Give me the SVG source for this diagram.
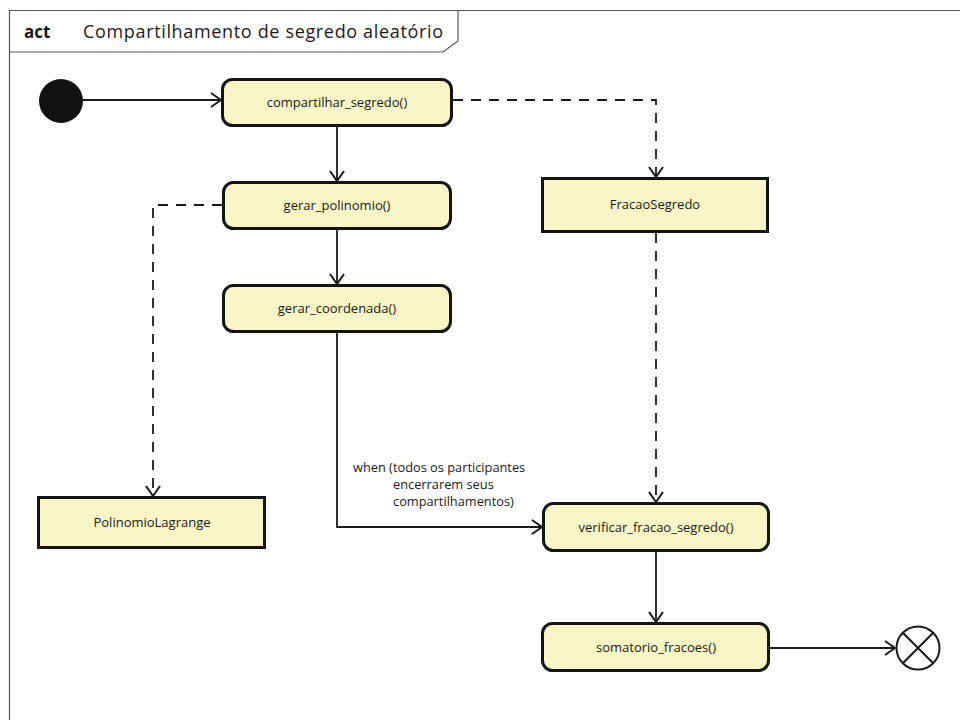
<svg xmlns="http://www.w3.org/2000/svg" width="960" height="720" viewBox="0 0 960 720">
  <style>
    .frame { fill: none; stroke: #555; stroke-width: 1.2; }
    .action { fill: #f8f6c6; stroke: #141414; stroke-width: 3; }
    .object { fill: #f8f6c6; stroke: #141414; stroke-width: 3; }
    .label { font-family: "Open Sans", "Liberation Sans", sans-serif; font-size: 13px; fill: #1a1a1a; text-anchor: middle; }
    .flow { fill: none; stroke: #1a1a1a; stroke-width: 1.8; }
    .dashed { stroke-dasharray: 10 8; }
    .guard { font-family: "Open Sans", "Liberation Sans", sans-serif; font-size: 12.8px; fill: #1a1a1a; }
  </style>
  <defs>
    <marker id="open" viewBox="0 0 12 16" refX="11" refY="8" markerWidth="12" markerHeight="16" markerUnits="userSpaceOnUse" orient="auto">
      <path d="M1,1 L11,8 L1,15" fill="none" stroke="#1a1a1a" stroke-width="2"/>
    </marker>
  </defs>

  <rect width="960" height="720" fill="#ffffff"/>

  <!-- activity frame with its name tab -->
  <g id="frame">
    <path class="frame" d="M9.5,730 L9.5,10.5 L970,10.5"/>
    <path class="frame" d="M9.5,52 L443,52 L458,41 L458,10.5"/>
    <text x="24" y="38" font-family="'Open Sans', 'Liberation Sans', sans-serif" font-size="17" font-weight="bold" fill="#1a1a1a">act</text>
    <text x="83" y="38" font-family="'Open Sans', 'Liberation Sans', sans-serif" font-size="18" textLength="360" lengthAdjust="spacing" fill="#1a1a1a">Compartilhamento de segredo aleatório</text>
  </g>

  <!-- control flows and object flows -->
  <g id="connectors">
    <line class="flow" x1="83" y1="100" x2="221" y2="100" marker-end="url(#open)"/>
    <line class="flow" x1="337" y1="126" x2="337" y2="181" marker-end="url(#open)"/>
    <line class="flow" x1="337" y1="229" x2="337" y2="284" marker-end="url(#open)"/>
    <polyline class="flow" points="337,332 337,527 542,527" marker-end="url(#open)"/>
    <line class="flow" x1="656" y1="551" x2="656" y2="622" marker-end="url(#open)"/>
    <line class="flow" x1="769" y1="648" x2="895" y2="648" marker-end="url(#open)"/>
    <polyline class="flow dashed" points="453,100 656,100 656,177" marker-end="url(#open)"/>
    <polyline class="flow dashed" points="222,205 153,205 153,496" marker-end="url(#open)"/>
    <line class="flow dashed" x1="656" y1="233" x2="656" y2="502" marker-end="url(#open)"/>
    <text class="guard" x="353" y="472">when (todos os participantes</text>
    <text class="guard" x="393" y="489">encerrarem seus</text>
    <text class="guard" x="393" y="506">compartilhamentos)</text>
  </g>

  <g id="initial">
    <circle cx="61" cy="101" r="22" fill="#111"/>
  </g>

  <g id="compartilhar_segredo">
    <rect class="action" x="222.5" y="79.5" width="229" height="46" rx="10"/>
    <text class="label" x="337" y="107">compartilhar_segredo()</text>
  </g>

  <g id="gerar_polinomio">
    <rect class="action" x="223.5" y="182.5" width="227" height="46" rx="10"/>
    <text class="label" x="337" y="210">gerar_polinomio()</text>
  </g>

  <g id="gerar_coordenada">
    <rect class="action" x="223.5" y="285.5" width="227" height="46" rx="10"/>
    <text class="label" x="337" y="313">gerar_coordenada()</text>
  </g>

  <g id="FracaoSegredo">
    <rect class="object" x="542.5" y="178.5" width="225" height="53"/>
    <text class="label" x="655" y="209">FracaoSegredo</text>
  </g>

  <g id="PolinomioLagrange">
    <rect class="object" x="38.5" y="497.5" width="226" height="50"/>
    <text class="label" x="152" y="527">PolinomioLagrange</text>
  </g>

  <g id="verificar_fracao_segredo">
    <rect class="action" x="543.5" y="503.5" width="225" height="47" rx="10"/>
    <text class="label" x="656" y="532">verificar_fracao_segredo()</text>
  </g>

  <g id="somatorio_fracoes">
    <rect class="action" x="542.5" y="623.5" width="226" height="47" rx="10"/>
    <text class="label" x="656" y="652">somatorio_fracoes()</text>
  </g>

  <g id="final">
    <circle cx="918" cy="648" r="21.5" fill="#fff" stroke="#1a1a1a" stroke-width="2"/>
    <line x1="902.8" y1="632.8" x2="933.2" y2="663.2" stroke="#1a1a1a" stroke-width="2"/>
    <line x1="933.2" y1="632.8" x2="902.8" y2="663.2" stroke="#1a1a1a" stroke-width="2"/>
  </g>
</svg>
